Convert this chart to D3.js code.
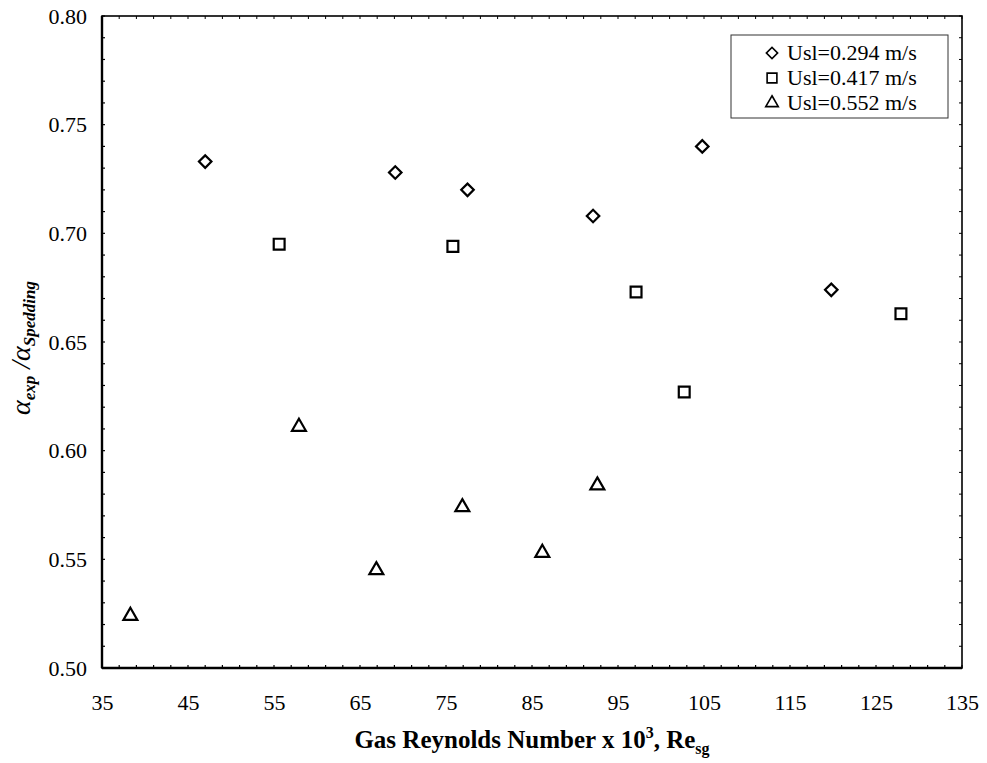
<!DOCTYPE html>
<html><head><meta charset="utf-8">
<script src="https://cdn.jsdelivr.net/npm/d3@7"></script>
<style>body{margin:0;background:#fff}svg{display:block}</style>
</head><body>
<svg id="chart" width="987" height="763"></svg>
<script>
// Void-fraction ratio against gas Reynolds number, one series per liquid velocity
const seriesNames = ["Usl=0.294 m/s", "Usl=0.417 m/s", "Usl=0.552 m/s"];
const reUsl294 = [47.0, 69.1, 77.5, 92.1, 104.8, 119.8];
const ratioUsl294 = [0.733, 0.728, 0.720, 0.708, 0.740, 0.674];
const reUsl417 = [55.6, 75.8, 97.1, 102.7, 127.9];
const ratioUsl417 = [0.695, 0.694, 0.673, 0.627, 0.663];
const reUsl552 = [38.3, 57.9, 66.9, 76.9, 86.2, 92.6];
const ratioUsl552 = [0.524, 0.611, 0.545, 0.574, 0.553, 0.584];
const xTickValues = [35, 45, 55, 65, 75, 85, 95, 105, 115, 125, 135];
const yTickValues = [0.50, 0.55, 0.60, 0.65, 0.70, 0.75, 0.80];

const svg = d3.select("#chart");
const m = {left: 102, top: 16, right: 25, bottom: 95};
const W = 987 - m.left - m.right, H = 763 - m.top - m.bottom;
const FONT = "'Liberation Serif','Times New Roman',serif";

const x = d3.scaleLinear().domain([35, 135]).range([0, W]);
const y = d3.scaleLinear().domain([0.50, 0.80]).range([H, 0]);

const g = svg.append("g").attr("transform", `translate(${m.left},${m.top})`);

// minor inward ticks on all four sides
const xMinor = d3.range(35, 135.001, 2);
const yMinor = d3.range(50, 80.001, 1).map(v => v / 100);
g.append("g").selectAll("line").data(xMinor).join("line")
  .attr("x1", d => x(d)).attr("x2", d => x(d)).attr("y1", H).attr("y2", H - 3)
  .attr("stroke", "#000").attr("stroke-width", 1.2);
g.append("g").selectAll("line").data(xMinor).join("line")
  .attr("x1", d => x(d)).attr("x2", d => x(d)).attr("y1", 0).attr("y2", 3)
  .attr("stroke", "#000").attr("stroke-width", 1);
g.append("g").selectAll("line").data(yMinor).join("line")
  .attr("x1", 0).attr("x2", 3).attr("y1", d => y(d)).attr("y2", d => y(d))
  .attr("stroke", "#000").attr("stroke-width", 1.2);
g.append("g").selectAll("line").data(yMinor).join("line")
  .attr("x1", W).attr("x2", W - 3).attr("y1", d => y(d)).attr("y2", d => y(d))
  .attr("stroke", "#000").attr("stroke-width", 1);

// axes with labels
const xAxis = g.append("g").attr("transform", `translate(0,${H})`)
  .call(d3.axisBottom(x).tickValues(xTickValues).tickSize(0).tickPadding(26).tickFormat(d3.format("d")));
const yAxis = g.append("g")
  .call(d3.axisLeft(y).tickValues(yTickValues).tickSize(0).tickPadding(15).tickFormat(d3.format(".2f")));
[xAxis, yAxis].forEach(a => {
  a.select(".domain").remove();
  a.selectAll("text").attr("font-family", FONT).attr("font-size", 22).attr("fill", "#000");
});

// frame
g.append("rect").attr("x", 0).attr("y", 0).attr("width", W).attr("height", H)
  .attr("fill", "none").attr("stroke", "#000").attr("stroke-width", 1.6);
g.append("line").attr("x1", 0).attr("x2", 0).attr("y1", 0).attr("y2", H)
  .attr("stroke", "#000").attr("stroke-width", 2.4);
g.append("line").attr("x1", 0).attr("x2", W).attr("y1", H).attr("y2", H)
  .attr("stroke", "#000").attr("stroke-width", 2.4);

// markers
const shapes = [
  {path: d3.symbol(d3.symbolSquare, 78)(), rot: 45},
  {path: d3.symbol(d3.symbolSquare, 118)(), rot: 0},
  {path: d3.symbol(d3.symbolTriangle, 84)(), rot: 0}
];
const allSeries = [
  {xs: reUsl294, ys: ratioUsl294},
  {xs: reUsl417, ys: ratioUsl417},
  {xs: reUsl552, ys: ratioUsl552}
];
allSeries.forEach((s, i) => {
  const pts = s.xs.map((v, k) => [v, s.ys[k]]);
  g.append("g").selectAll("path").data(pts).join("path")
    .attr("d", shapes[i].path)
    .attr("transform", d => `translate(${x(d[0])},${y(d[1])}) rotate(${shapes[i].rot})`)
    .attr("fill", "#fff").attr("stroke", "#000").attr("stroke-width", 2.2);
});

// legend
const lg = svg.append("g").attr("transform", "translate(731,35)");
lg.append("rect").attr("width", 217).attr("height", 83)
  .attr("fill", "#fff").attr("stroke", "#333").attr("stroke-width", 1);
seriesNames.forEach((name, i) => {
  const cy = 18 + i * 25;
  lg.append("path").attr("d", shapes[i].path)
    .attr("transform", `translate(41,${cy}) rotate(${shapes[i].rot}) scale(0.9)`)
    .attr("fill", "#fff").attr("stroke", "#000").attr("stroke-width", 1.8);
  lg.append("text").attr("x", 56).attr("y", cy + 7)
    .attr("font-family", FONT).attr("font-size", 22).text(name);
});

// x axis title
const xt = svg.append("text").attr("x", m.left + W / 2).attr("y", 748)
  .attr("text-anchor", "middle").attr("font-family", FONT)
  .attr("font-size", 25).attr("font-weight", "bold");
xt.append("tspan").text("Gas Reynolds Number x 10");
xt.append("tspan").attr("dy", -10).attr("font-size", 16).text("3");
xt.append("tspan").attr("dy", 10).text(", Re");
xt.append("tspan").attr("dy", 6).attr("font-size", 16).text("sg");

// y axis title
const yt = svg.append("text")
  .attr("transform", `translate(30,348) rotate(-90)`)
  .attr("text-anchor", "middle").attr("font-family", FONT)
  .attr("font-size", 28).attr("font-style", "italic");
yt.append("tspan").text("α");
yt.append("tspan").attr("dy", 5).attr("font-size", 17).attr("font-weight", "bold").text("exp");
yt.append("tspan").attr("dy", -5).text(" /");
yt.append("tspan").text("α");
yt.append("tspan").attr("dy", 5).attr("font-size", 17).attr("font-weight", "bold").text("Spedding");
</script>
</body></html>
